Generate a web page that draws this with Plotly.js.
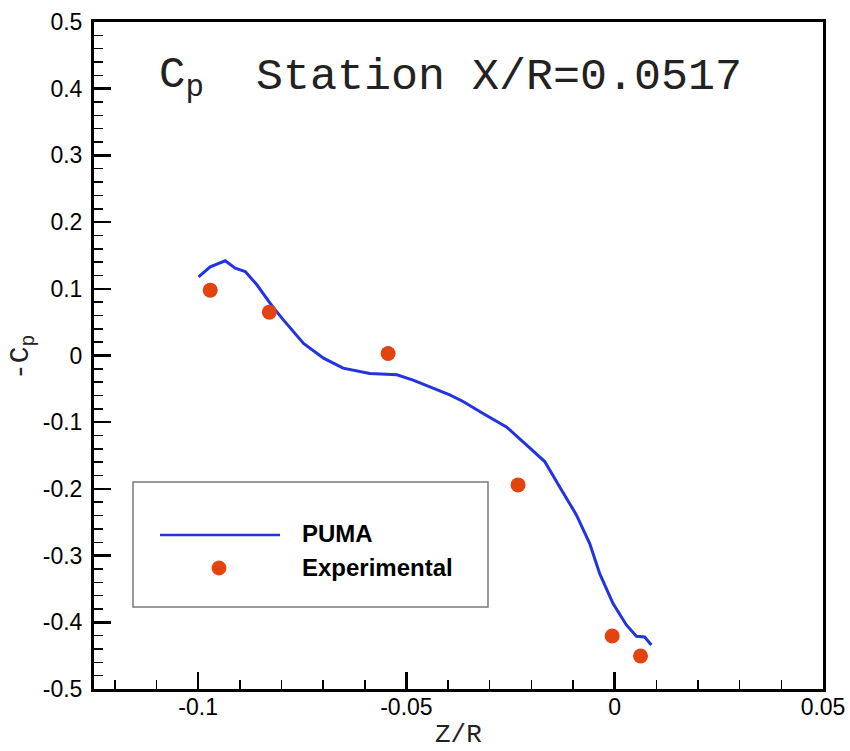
<!DOCTYPE html>
<html>
<head>
<meta charset="utf-8">
<script src="https://cdn.plot.ly/plotly-3.0.1.min.js"></script>
<style>html,body{margin:0;padding:0;background:#fff;}#chart{width:850px;height:751px;}</style>
</head>
<body>
<div id="chart"></div>
<script>
// PUMA computed -Cp along Z/R
var pumaZ  = [-0.0999, -0.0971, -0.0935, -0.0911, -0.0887, -0.0859, -0.0827, -0.0799, -0.0747, -0.0699, -0.0652, -0.0588, -0.0523, -0.0484, -0.0396, -0.0364, -0.0316, -0.0260, -0.0212, -0.0168, -0.0132, -0.0092, -0.0060, -0.0036, -0.0004, 0.0028, 0.0052, 0.0072, 0.0088];
var pumaCp = [0.118, 0.133, 0.142, 0.131, 0.126, 0.106, 0.078, 0.056, 0.018, -0.004, -0.019, -0.027, -0.029, -0.037, -0.059, -0.069, -0.087, -0.107, -0.134, -0.159, -0.197, -0.239, -0.282, -0.327, -0.372, -0.404, -0.421, -0.422, -0.434];
// Experimental -Cp
var expZ  = [-0.0971, -0.0829, -0.0544, -0.0232, -0.0006, 0.0062];
var expCp = [0.098, 0.065, 0.003, -0.194, -0.4205, -0.4505];
// Tick labels
var xTickVals = [-0.1, -0.05, 0, 0.05];
var xTickText = ['-0.1', '-0.05', '0', '0.05'];
var yTickVals = [-0.5, -0.4, -0.3, -0.2, -0.1, 0, 0.1, 0.2, 0.3, 0.4, 0.5];
var yTickText = ['-0.5', '-0.4', '-0.3', '-0.2', '-0.1', '0', '0.1', '0.2', '0.3', '0.4', '0.5'];
var seriesNames = ['PUMA', 'Experimental'];

var L = 94, R = 27, T = 22, B = 62;
var W = 850, H = 751;
var pw = W - L - R, ph = H - T - B;
function px(x) { return (x - L) / pw; }
function py(y) { return (H - B - y) / ph; }

var blue = '#2233e0';
var orange = '#e2430f';
var mono = 'Liberation Mono, Courier New, monospace';
var sans = 'Liberation Sans, Arial, sans-serif';

var traces = [
  {x: pumaZ, y: pumaCp, type: 'scatter', mode: 'lines', name: seriesNames[0],
   line: {color: blue, width: 3}, showlegend: false},
  {x: expZ, y: expCp, type: 'scatter', mode: 'markers', name: seriesNames[1],
   marker: {color: orange, size: 15}, showlegend: false}
];

var axisCommon = {
  showgrid: false, zeroline: false, showline: true, linecolor: '#000', linewidth: 3,
  mirror: true, ticks: 'inside', ticklen: 17, tickwidth: 2.5, tickcolor: '#000',
  tickfont: {family: sans, size: 23, color: '#000'}, tickmode: 'array'
};

var layout = {
  width: W, height: H,
  margin: {l: L, r: R, t: T, b: B, pad: 0},
  paper_bgcolor: '#fff', plot_bgcolor: '#fff',
  showlegend: false,
  xaxis: Object.assign({}, axisCommon, {
    range: [-0.125, 0.05], tickvals: xTickVals, ticktext: xTickText, ticklabelstandoff: -5,
    minor: {tickmode: 'linear', tick0: 0, dtick: 0.01, ticks: 'inside', ticklen: 9, tickwidth: 1.5, tickcolor: '#000'}
  }),
  yaxis: Object.assign({}, axisCommon, {
    range: [-0.5, 0.5], tickvals: yTickVals, ticktext: yTickText, ticklabelstandoff: 4,
    minor: {tickmode: 'linear', tick0: 0, dtick: 0.02, ticks: 'inside', ticklen: 9, tickwidth: 1.5, tickcolor: '#000'}
  }),
  shapes: [
    {type: 'rect', xref: 'paper', yref: 'paper', x0: px(133), x1: px(488), y0: py(607), y1: py(482),
     line: {color: '#7a7a7a', width: 1.5}, fillcolor: 'rgba(0,0,0,0)'},
    {type: 'line', xref: 'paper', yref: 'paper', x0: px(160), x1: px(280), y0: py(535), y1: py(535),
     line: {color: blue, width: 2.5}},
    {type: 'circle', xref: 'paper', yref: 'paper', x0: px(212), x1: px(226), y0: py(575), y1: py(561),
     line: {color: orange, width: 1}, fillcolor: orange}
  ],
  annotations: [
    {xref: 'paper', yref: 'paper', x: px(300), y: py(533), xanchor: 'left', yanchor: 'middle', showarrow: false,
     text: '<b>' + seriesNames[0] + '</b>', font: {family: sans, size: 24, color: '#000'}},
    {xref: 'paper', yref: 'paper', x: px(300), y: py(567), xanchor: 'left', yanchor: 'middle', showarrow: false,
     text: '<b>' + seriesNames[1] + '</b>', font: {family: sans, size: 24, color: '#000'}},
    {xref: 'paper', yref: 'paper', x: px(157), y: py(77), xanchor: 'left', yanchor: 'middle', showarrow: false,
     text: 'C<sub>p</sub>', font: {family: mono, size: 44, color: '#222'}},
    {xref: 'paper', yref: 'paper', x: px(254), y: py(77), xanchor: 'left', yanchor: 'middle', showarrow: false,
     text: 'Station X/R=0.0517', font: {family: mono, size: 45, color: '#222'}},
    {xref: 'paper', yref: 'paper', x: px(22), y: py(358), xanchor: 'center', yanchor: 'middle', showarrow: false,
     textangle: -90, text: '-C<sub>p</sub>', font: {family: mono, size: 28, color: '#222'}},
    {xref: 'paper', yref: 'paper', x: px(458), y: py(735), xanchor: 'center', yanchor: 'middle', showarrow: false,
     text: 'Z/R', font: {family: mono, size: 26, color: '#222'}}
  ]
};

Plotly.newPlot('chart', traces, layout, {displayModeBar: false, staticPlot: true});
</script>
</body>
</html>
